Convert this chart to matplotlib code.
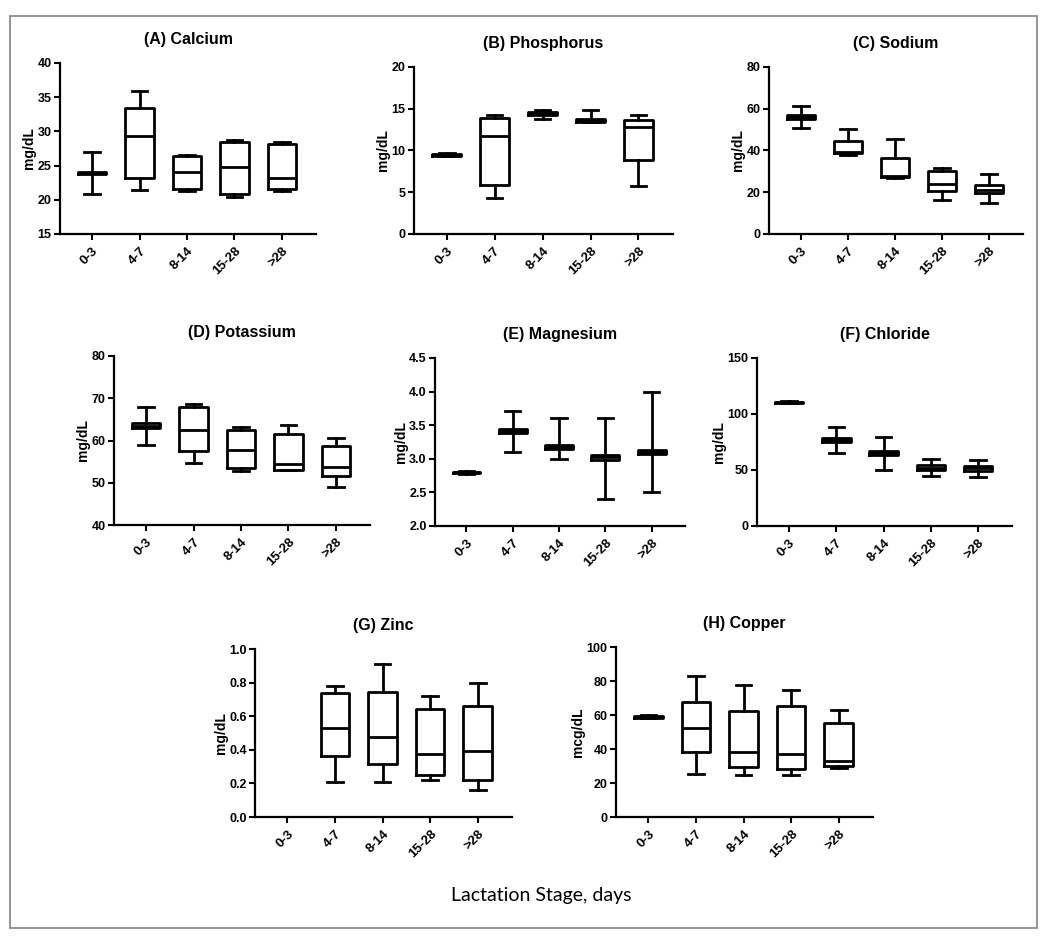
import matplotlib
matplotlib.use("Agg")
import matplotlib.pyplot as plt
from matplotlib.patches import Rectangle

plt.rcParams['font.family'] = ['Liberation Sans', 'DejaVu Sans']

stages = ["0-3", "4-7", "8-14", "15-28", ">28"]

# each row: [min, q1, median, q3, max] per lactation stage (None = no data)
calcium = [[20.8, 23.7, 23.9, 24.1, 27.0],
           [21.4, 23.2, 29.3, 33.4, 35.9],
           [21.3, 21.6, 24.1, 26.4, 26.6],
           [20.4, 20.8, 24.8, 28.4, 28.7],
           [21.3, 21.6, 23.2, 28.1, 28.4]]
phosphorus = [[9.3, 9.4, 9.5, 9.6, 9.7],
              [4.3, 5.9, 11.7, 13.9, 14.2],
              [13.8, 14.2, 14.4, 14.6, 14.9],
              [13.4, 13.4, 13.6, 13.8, 14.9],
              [5.8, 8.9, 12.8, 13.7, 14.3]]
sodium = [[51.0, 55.2, 56.0, 57.0, 61.2],
          [38.0, 38.6, 39.5, 44.5, 50.2],
          [27.0, 27.2, 28.0, 36.6, 45.4],
          [16.4, 20.7, 23.9, 30.4, 31.5],
          [15.0, 19.8, 21.2, 23.5, 28.9]]
potassium = [[59.0, 62.9, 63.5, 64.1, 68.0],
             [54.6, 57.6, 62.6, 67.9, 68.7],
             [52.7, 53.4, 57.7, 62.4, 63.3],
             [52.9, 52.9, 54.5, 61.5, 63.6],
             [49.1, 51.7, 53.8, 58.7, 60.6]]
magnesium = [[2.78, 2.79, 2.80, 2.81, 2.82],
             [3.10, 3.38, 3.41, 3.44, 3.71],
             [3.00, 3.15, 3.18, 3.21, 3.60],
             [2.40, 2.98, 3.02, 3.06, 3.60],
             [2.50, 3.07, 3.10, 3.13, 4.00]]
chloride = [[109.5, 110.0, 110.5, 111.0, 112.0],
            [64.8, 74.9, 76.8, 78.9, 88.4],
            [50.0, 63.0, 65.0, 67.0, 79.8],
            [44.7, 50.3, 52.2, 54.3, 59.5],
            [43.8, 49.4, 51.4, 53.4, 58.6]]
zinc = [None,
        [0.21, 0.365, 0.53, 0.74, 0.78],
        [0.21, 0.315, 0.475, 0.745, 0.91],
        [0.22, 0.25, 0.375, 0.64, 0.72],
        [0.16, 0.22, 0.39, 0.66, 0.80]]
copper = [[58.0, 58.5, 59.0, 59.5, 60.0],
          [25.3, 38.4, 52.1, 67.8, 82.9],
          [24.9, 29.4, 38.0, 62.6, 77.8],
          [24.7, 28.2, 37.2, 65.2, 74.9],
          [28.8, 30.0, 33.0, 55.5, 63.2]]

titles = ["(A) Calcium", "(B) Phosphorus", "(C) Sodium", "(D) Potassium",
          "(E) Magnesium", "(F) Chloride", "(G) Zinc", "(H) Copper"]
series = [calcium, phosphorus, sodium, potassium, magnesium, chloride, zinc, copper]
ylabels = ["mg/dL"] * 7 + ["mcg/dL"]
yranges = [(15, 40, 5), (0, 20, 5), (0, 80, 20), (40, 80, 10),
           (2.0, 4.5, 0.5), (0, 150, 50), (0.0, 1.0, 0.2), (0, 100, 20)]
yfmt = ["{:.0f}"] * 4 + ["{:.1f}", "{:.0f}", "{:.1f}", "{:.0f}"]

# axes boxes in pixels: left, top, right, bottom
boxes_px = [(60, 63, 316, 234), (414, 67, 673, 234), (769, 67, 1023, 234),
            (114, 356, 370, 525), (435, 358, 685, 526), (757, 358, 1012, 526),
            (255, 649, 512, 817), (616, 647, 873, 817)]

W, H = 1050, 941
fig = plt.figure(figsize=(W / 100, H / 100), dpi=100)
fig.patch.set_facecolor("white")

lw = 2.0
for data, title, ylab, (y0, y1, ys), fmt, (l, t, r, b) in zip(
        series, titles, ylabels, yranges, yfmt, boxes_px):
    ax = fig.add_axes([l / W, 1 - b / H, (r - l) / W, (b - t) / H])
    stats, pos = [], []
    for i, d in enumerate(data):
        if d is None:
            continue
        stats.append(dict(whislo=d[0], q1=d[1], med=d[2], q3=d[3], whishi=d[4], fliers=[]))
        pos.append(i)
    style = dict(color="black", linewidth=lw)
    ax.bxp(stats, positions=pos, widths=0.6, capwidths=0.33, showfliers=False,
           boxprops=style, medianprops=style, whiskerprops=style, capprops=style,
           manage_ticks=False)
    ax.set_xlim(-0.68, 4.72)
    ax.set_ylim(y0, y1)
    n = int(round((y1 - y0) / ys))
    ticks = [y0 + k * ys for k in range(n + 1)]
    ax.set_yticks(ticks)
    ax.set_yticklabels([fmt.format(v) for v in ticks], fontweight="bold", fontsize=9)
    ax.set_xticks(range(len(stages)))
    ax.set_xticklabels(stages, rotation=45, ha="right", rotation_mode="anchor",
                       fontweight="bold", fontsize=9.5)
    ax.tick_params(direction="out", length=4, width=1.5, pad=2)
    ax.tick_params(axis="x", pad=4)
    for s in ["top", "right"]:
        ax.spines[s].set_visible(False)
    for s in ["left", "bottom"]:
        ax.spines[s].set_linewidth(1.6)
    ax.set_ylabel(ylab, fontweight="bold", fontsize=10, labelpad=1)
    ax.set_title(title, fontweight="bold", fontsize=11.5, pad=14)
    ax.patch.set_alpha(0)

fig.text(541 / W, 1 - 896 / H, "Lactation Stage, days", ha="center", va="center",
         fontsize=14, family=["Lato", "DejaVu Sans"])

fig.patches.append(Rectangle((10 / W, 1 - 928 / H), (1037 - 10) / W, (928 - 16) / H,
                             transform=fig.transFigure, fill=False,
                             edgecolor="#8c8c8c", linewidth=1.3))

fig.savefig("out.png", dpi=100, facecolor="white")
